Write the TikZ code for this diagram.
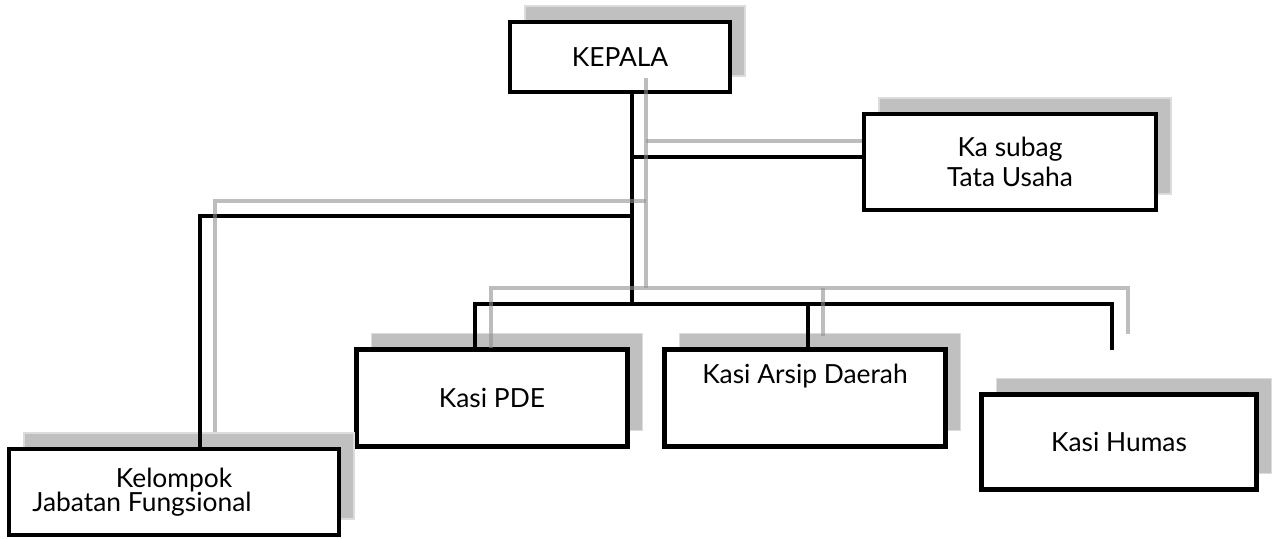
\documentclass[tikz,border=0pt]{standalone}
\usepackage{fontspec}
\setmainfont{Lato}
\usepackage{xcolor}
\usetikzlibrary{shadows}
\definecolor{bayang}{HTML}{C0C0C0}
\definecolor{tepibayang}{HTML}{DCDCDC}
\definecolor{garisabu}{HTML}{919191}

\begin{document}
\begin{tikzpicture}[
    kotak/.style={draw=black,line width=2.4pt,fill=white,align=center,font=\fontsize{15}{17}\selectfont,
      drop shadow={shadow xshift=0.3cm,shadow yshift=0.32cm,opacity=1,fill=bayang,draw=tepibayang,line width=0.6pt}},
    hitam/.style={draw=black,line width=2.3pt},
    abu/.style={draw=garisabu,line width=2.7pt,opacity=0.6}]
            \useasboundingbox (0,0) rectangle (25.58,-10.76);

            \node[kotak,minimum width=4.4cm,minimum height=1.4cm] (kepala) at (12.4,-1.14) {KEPALA};
            \node[kotak,minimum width=5.84cm,minimum height=1.92cm] (tu) at (20.2,-3.24) {Ka subag\\Tata Usaha};
            \node[kotak,minimum width=5.42cm,minimum height=1.94cm] (pde) at (9.84,-7.96) {Kasi PDE};
            \node[kotak,minimum width=5.62cm,minimum height=1.94cm] (arsip) at (16.1,-7.96) {Kasi Arsip Daerah\\[10pt]\mbox{}};
            \node[kotak,minimum width=5.5cm,minimum height=1.9cm] (humas) at (22.38,-8.84) {Kasi Humas};
            \node[kotak,minimum width=6.6cm,minimum height=1.72cm] (kjf) at (3.48,-9.84) {Kelompok\\[-3pt]Jabatan Fungsional\hspace*{1.28cm}};

            \coordinate (batang) at (12.64,-6.08);
            \coordinate (ketu) at (12.64,-3.14);
            \coordinate (kekiri) at (12.64,-4.32);
            \coordinate (buskiri) at (9.5,-6.08);
            \coordinate (busarsip) at (16.16,-6.08);
            \coordinate (buskanan) at (22.24,-6.08);
            \coordinate (ujunghumas) at (22.24,-7.0);
            \coordinate (turunkjf) at (4.0,-4.32);

            \draw[hitam] (kepala.south -| batang) -- (batang);
            \draw[hitam] (ketu) -- (ketu -| tu.west);
            \draw[hitam] (kekiri) -- (turunkjf) -- (turunkjf |- kjf.north);
            \draw[hitam] (pde.north -| buskiri) -- (buskiri) -- (buskanan) -- (ujunghumas);
            \draw[hitam] (busarsip) -- (busarsip |- arsip.north);

            \coordinate (abuatas) at (12.92,-1.56);
            \coordinate (abubawah) at (12.92,-5.76);
            \coordinate (abutu) at (12.92,-2.82);
            \coordinate (abukiri) at (12.92,-4.02);
            \coordinate (abukjf) at (4.3,-8.64);
            \coordinate (abupde) at (9.82,-6.96);
            \coordinate (abuarsip) at (16.46,-6.72);
            \coordinate (abuhumas) at (22.56,-6.68);

            \draw[abu] (abuatas) -- (abubawah);
            \draw[abu] (abutu) -- (abutu -| tu.west);
            \draw[abu] (abukiri) -| (abukjf);
            \draw[abu] (abupde) |- (abuhumas |- abubawah) -- (abuhumas);
            \draw[abu] (abuarsip |- abubawah) -- (abuarsip);
        \end{tikzpicture}
\end{document}
